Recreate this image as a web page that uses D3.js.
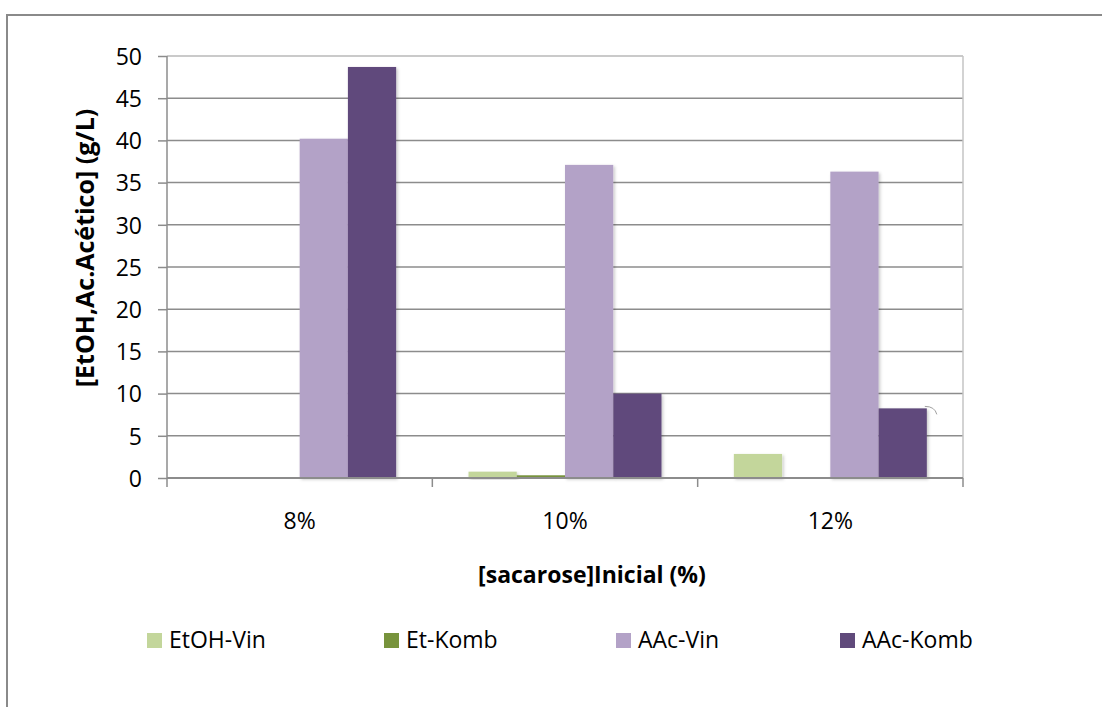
<!DOCTYPE html>
<html>
<head>
<meta charset="utf-8">
<script src="https://cdn.jsdelivr.net/npm/d3@7"></script>
<style>
  html, body { margin: 0; padding: 0; background: #fff; }
  svg { display: block; font-family: "Open Sans", "Noto Sans", sans-serif; }
</style>
</head>
<body>
<svg id="chart" width="1102" height="707"></svg>
<script>
// Initial sucrose concentration groups
const categories = ["8%", "10%", "12%"];

// Series (ethanol and acetic acid, vinegar vs. kombucha), g/L
const seriesNames = ["EtOH-Vin", "Et-Komb", "AAc-Vin", "AAc-Komb"];
const etohVin  = [0,    0.75, 2.85];
const etKomb   = [0,    0.32, 0];
const aacVin   = [40.2, 37.1, 36.3];
const aacKomb  = [48.7, 10.0, 8.25];
const seriesColors = ["#C3D69B", "#77933C", "#B3A2C7", "#604A7B"];

const yTicks = [0, 5, 10, 15, 20, 25, 30, 35, 40, 45, 50];

const seriesValues = [etohVin, etKomb, aacVin, aacKomb];
const series = seriesNames.map((name, i) => ({ name, color: seriesColors[i], values: seriesValues[i] }));

const FS = 23;

const svg = d3.select("#chart");
const defs = svg.append("defs");
const shadow = defs.append("filter").attr("id", "barShadow")
  .attr("x", "-10%").attr("y", "-10%").attr("width", "130%").attr("height", "130%");
shadow.append("feDropShadow").attr("dx", 1.5).attr("dy", 1.5).attr("stdDeviation", 1.5)
  .attr("flood-color", "#000").attr("flood-opacity", 0.22);

// Chart frame
svg.append("path")
  .attr("d", "M7,707 V15 H1102")
  .attr("fill", "none").attr("stroke", "#8a8a8a").attr("stroke-width", 2);

const plot = { left: 167, right: 963, top: 56, bottom: 478 };

const x0 = d3.scaleBand().domain(categories).range([plot.left, plot.right]).padding(0);
const barW = x0.bandwidth() / 5.5;           // 150% gap between groups
const x1 = d3.scaleBand().domain(seriesNames)
  .range([barW * 0.75, x0.bandwidth() - barW * 0.75]).padding(0);
const y = d3.scaleLinear().domain([0, 50]).range([plot.bottom, plot.top]);

const gridColor = "#8c8c8c";

// Horizontal gridlines
svg.append("g").selectAll("line").data(yTicks.filter(t => t > 0)).join("line")
  .attr("x1", plot.left).attr("x2", plot.right)
  .attr("y1", d => y(d)).attr("y2", d => y(d))
  .attr("stroke", d => d === 50 ? "#b8b8b8" : gridColor).attr("stroke-width", 1.5);

// Right edge of plot area
svg.append("line")
  .attr("x1", plot.right).attr("x2", plot.right)
  .attr("y1", plot.top).attr("y2", plot.bottom)
  .attr("stroke", "#c4c4c4").attr("stroke-width", 1.5);

// Bars
const groups = svg.append("g").selectAll("g").data(categories).join("g")
  .attr("transform", d => `translate(${x0(d)},0)`);
groups.selectAll("rect")
  .data((c, ci) => series.map(s => ({ name: s.name, color: s.color, value: s.values[ci] })))
  .join("rect")
  .filter(d => d.value > 0)
  .attr("x", d => x1(d.name))
  .attr("width", x1.bandwidth())
  .attr("y", d => y(d.value))
  .attr("height", d => y(0) - y(d.value))
  .attr("fill", d => d.color)
  .attr("filter", "url(#barShadow)");

// Small arc beside the last kombucha bar
{
  const cx = x0("12%") + x1("AAc-Komb") + x1.bandwidth();
  const cy = y(aacKomb[2]);
  svg.append("path")
    .attr("d", `M${cx - 2},${cy - 2} Q${cx + 8},${cy - 2} ${cx + 10},${cy + 6}`)
    .attr("fill", "none").attr("stroke", "#a0a0a0").attr("stroke-width", 1);
}

// Y axis
const yAxis = d3.axisLeft(y).tickValues(yTicks).tickSize(9).tickPadding(16);
const yg = svg.append("g").attr("transform", `translate(${plot.left},0)`).call(yAxis);
yg.select(".domain").attr("stroke", gridColor).attr("stroke-width", 1.5).attr("d", `M0,${plot.top}V${plot.bottom}`);
yg.selectAll(".tick line").attr("stroke", gridColor).attr("stroke-width", 1.5);
yg.selectAll(".tick text").attr("font-size", FS).attr("fill", "#000")
  .attr("font-family", "'Open Sans', sans-serif").attr("dy", "0.36em");

// X axis
const xg = svg.append("g").attr("transform", `translate(0,${plot.bottom})`);
xg.append("line").attr("x1", plot.left).attr("x2", plot.right)
  .attr("stroke", gridColor).attr("stroke-width", 2);
const bounds = categories.map(c => x0(c)).concat([plot.right]);
xg.selectAll("line.tick").data(bounds).join("line").attr("class", "tick")
  .attr("x1", d => d).attr("x2", d => d).attr("y1", 0).attr("y2", 9)
  .attr("stroke", gridColor).attr("stroke-width", 1.5);
xg.selectAll("text").data(categories).join("text")
  .attr("x", d => x0(d) + x0.bandwidth() / 2).attr("y", 51)
  .attr("text-anchor", "middle").attr("font-size", FS).attr("fill", "#000")
  .text(d => d);

// Axis titles
svg.append("text")
  .attr("x", 592).attr("y", 583)
  .attr("text-anchor", "middle").attr("font-size", FS).attr("font-weight", "bold")
  .text("[sacarose]Inicial (%)");
svg.append("text")
  .attr("transform", "translate(94,248) rotate(-90)")
  .attr("text-anchor", "middle").attr("font-size", 25).attr("font-weight", "bold")
  .text("[EtOH,Ac.Acético] (g/L)");

// Legend
const legendX = [147, 384, 616, 840];
const legend = svg.append("g").selectAll("g").data(series).join("g")
  .attr("transform", (d, i) => `translate(${legendX[i]},633)`);
legend.append("rect").attr("width", 15).attr("height", 15).attr("fill", d => d.color);
legend.append("text").attr("x", 22).attr("y", 15)
  .attr("font-size", FS).attr("fill", "#000").text(d => d.name);
</script>
</body>
</html>
